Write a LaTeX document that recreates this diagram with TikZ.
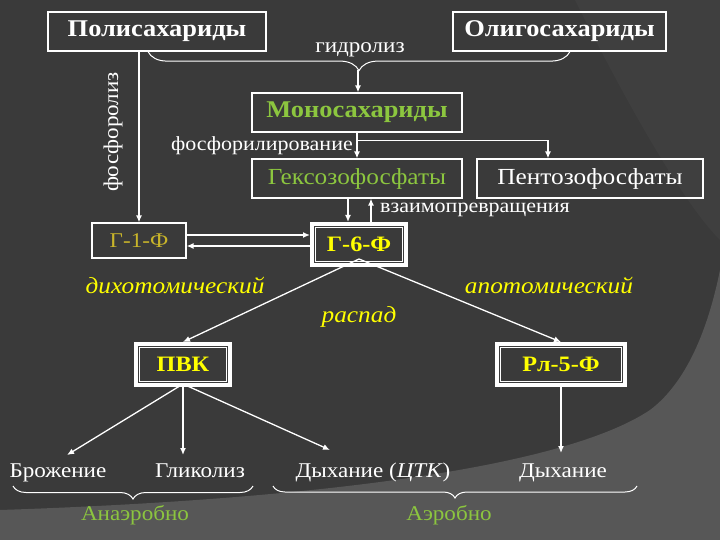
\documentclass[tikz,border=0pt]{standalone}
\usepackage{fontspec}
\setmainfont{Liberation Serif}[FakeStretch=1.1]
\usetikzlibrary{
  arrows.meta,%
  calc,%
  decorations.pathreplacing,%
  positioning
}
\definecolor{bgdark}{HTML}{3A3A3A}
\definecolor{bgmid}{HTML}{3F3F3F}
\definecolor{bglight}{HTML}{575757}
\definecolor{leafgreen}{HTML}{8CC63F}
\definecolor{gold}{HTML}{C9B52A}
\definecolor{yel}{HTML}{FFFF00}
\tikzset{>={Latex[length=7pt,width=6pt]}}

\begin{document}
\begin{tikzpicture}[x=1pt,y=-1pt,
    every node/.style={text=white, inner sep=0pt},
    txt/.style={anchor=base, font=\fontsize{21}{23}\selectfont},
    box/.style={draw=white, line width=1.2pt, minimum height=39pt,
      font=\fontsize{24}{26}\selectfont\bfseries},
    plainbox/.style={box, font=\fontsize{23}{25}\selectfont},
    thickbox/.style={draw=white, line width=4pt, minimum width=94pt,
      minimum height=41pt, text=yel, font=\fontsize{22}{24}\selectfont\bfseries},
    way/.style={anchor=base, text=yel, font=\fontsize{23}{25}\selectfont\itshape},
    link/.style={draw=white, line width=1.3pt, ->},
    brc/.style={draw=white, line width=1pt, decorate,
      decoration={brace, mirror, amplitude=#1}}]
  % background
  \fill[bgdark] (0,0) rectangle (720,540);
  \fill[bgmid] (575,0) .. controls (620,90) and (680,200) .. (720,240) -- (720,0) -- cycle;
  \fill[bglight] (0,510) .. controls (300,500) and (560,470) .. (650,410)
    .. controls (690,380) and (710,320) .. (720,270) -- (720,540) -- (0,540) -- cycle;
  \useasboundingbox (0,0) rectangle (720,540);

  % boxes
  \node[box, minimum width=218pt] (poly) at (157,31.5) {Полисахариды};
  \node[box, minimum width=213pt] (oligo) at (559.5,31.5) {Олигосахариды};
  \node[box, minimum width=210pt, text=leafgreen] (mono) at (357,112.5) {Моносахариды};
  \node[plainbox, minimum width=210pt, text=leafgreen] (hexo) at (357,178.5) {Гексозофосфаты};
  \node[plainbox, minimum width=226pt] (pento) at (590,178.5) {Пентозофосфаты};
  \node[plainbox, minimum width=94pt, minimum height=35pt, text=gold,
    font=\fontsize{21}{23}\selectfont] (g1) at (139,240.5) {Г-1-Ф};
  \node[thickbox] (g6) at (359,244.5) {Г-6-Ф};
  \node[thickbox] (pvk) at (183,364.5) {ПВК};
  \node[thickbox, minimum width=128pt] (rl5) at (561,364.5) {Рл-5-Ф};
  \foreach \n in {g6,pvk,rl5}
    \draw[white, line width=0.7pt] ($(\n.south west)+(5.5,-5.5)$) rectangle ($(\n.north east)+(-5.5,5.5)$);

  % labels
  \node[txt] (hydro) at (360,53) {гидролиз};
  \node[txt, anchor=center, rotate=90] (phosphorolysis) at (113,132) {фосфоролиз};
  \node[txt, anchor=base east, font=\fontsize{20}{22}\selectfont] (phosph) at (353,151) {фосфорилирование};
  \node[txt, anchor=base west, font=\fontsize{20}{22}\selectfont] (inter) at (380,213) {взаимопревращения};
  \node[way] (dich) at (175,293) {дихотомический};
  \node[way] (apot) at (549,293) {апотомический};
  \node[way] (decay) at (359,322) {распад};
  \node[txt] (ferm) at (58,477) {Брожение};
  \node[txt] (glyc) at (200,477) {Гликолиз};
  \node[txt] (resp) at (373,477) {Дыхание (\textit{ЦТК})};
  \node[txt] (resp2) at (563,477) {Дыхание};
  \node[txt, text=leafgreen] (anaer) at (135,520) {Анаэробно};
  \node[txt, text=leafgreen] (aer) at (449,520) {Аэробно};

  % hydrolysis brace
  \draw[brc=19] ($(poly.south)+(-9,0)$) -- ($(oligo.south)+(10.5,0)$);
  \coordinate (hyd) at (358,70);
  \draw[link] (hyd) -- (hyd |- mono.north);
  \draw[link] (poly.south -| g1.north) -- (g1.north);

  % phosphorylation
  \draw[link] (mono) -- (hexo);
  \coordinate (fork) at ($(mono.south)+(0,8)$);
  \coordinate (pentoin) at ($(pento.north)+(-42,0)$);
  \draw[link] (fork) -| (pentoin);

  % interconversion
  \coordinate (down) at ($(hexo.south)+(-9,0)$);
  \coordinate (up) at ($(hexo.south)+(14,0)$);
  \draw[link] (down) -- (down |- g6.north);
  \draw[link] (up |- g6.north) -- (up);
  \coordinate (g1a) at ($(g1.east)+(0,-5.5)$);
  \coordinate (g1b) at ($(g1.east)+(0,5.5)$);
  \draw[link] (g1a) -- (g1a -| g6.west);
  \draw[link] (g1b -| g6.west) -- (g1b);

  % decay
  \coordinate (split) at ($(g6.south)+(0,-8)$);
  \draw[link] (split) -- (pvk.north);
  \draw[link] (split) -- (rl5.north);

  % end products
  \coordinate (pvkfork) at ($(pvk.south)+(0,-3)$);
  \coordinate (tfer) at (67,455);
  \coordinate (tgly) at (183,455);
  \coordinate (tres) at (330,450);
  \coordinate (tres2) at (559,453);
  \foreach \t in {tfer,tgly,tres}
    \draw[link] (pvkfork) -- (\t);
  \draw[link] (rl5.south) -- (rl5.south |- tres2);

  % braces
  \draw[brc=13] (13,486) -- (253,486);
  \draw[brc=12] (273,486) -- (637,486);
\end{tikzpicture}
\end{document}
